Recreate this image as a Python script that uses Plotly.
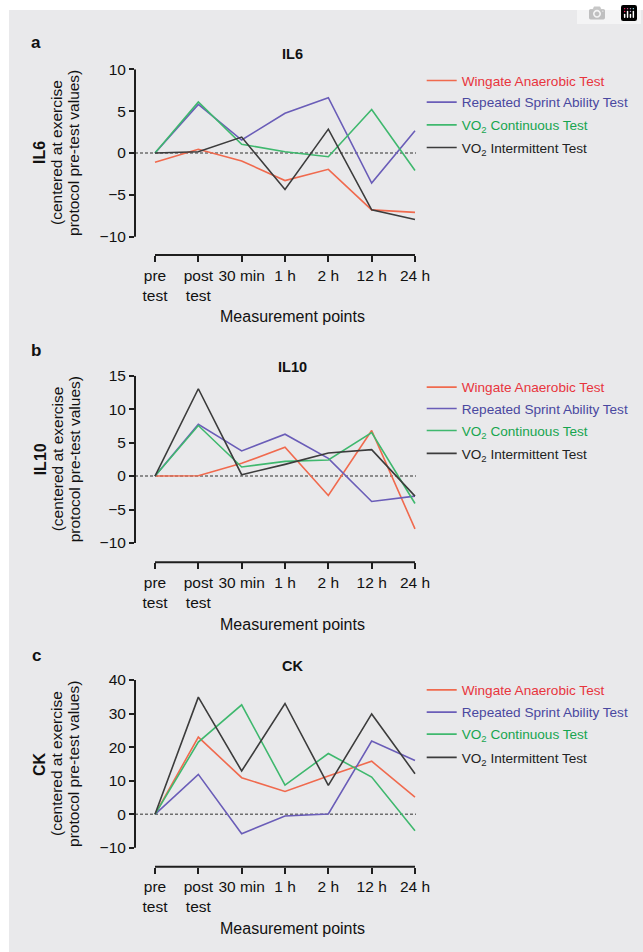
import plotly.graph_objects as go

W, H = 643, 952

# ---------------- data ----------------
x_labels = ["pre<br>test", "post<br>test", "30 min", "1 h", "2 h", "12 h", "24 h"]
x_pos = [0, 1, 2, 3, 4, 5, 6]

il6_wingate = [-1.1, 0.45, -0.95, -3.3, -1.95, -6.8, -7.1]
il6_rsa = [0, 5.8, 1.55, 4.75, 6.6, -3.6, 2.65]
il6_vo2c = [0, 6.1, 1.05, 0.15, -0.45, 5.2, -2.1]
il6_vo2i = [0, 0.15, 1.9, -4.35, 2.85, -6.8, -7.95]

il10_wingate = [0, 0.05, 1.9, 4.3, -2.9, 6.8, -7.9]
il10_rsa = [0, 7.75, 3.75, 6.25, 2.65, -3.8, -3.0]
il10_vo2c = [0, 7.55, 1.35, 2.2, 2.4, 6.5, -4.1]
il10_vo2i = [0, 13.05, 0.2, 1.75, 3.45, 3.95, -3.0]

ck_wingate = [0, 23.0, 10.9, 6.8, 11.4, 15.8, 5.1]
ck_rsa = [0, 11.9, -5.8, -0.5, 0.1, 21.8, 16.0]
ck_vo2c = [0, 21.5, 32.6, 8.7, 18.1, 11.1, -4.9]
ck_vo2i = [0, 34.9, 12.9, 33.0, 8.6, 29.9, 12.1]

il6_ticks = [-10, -5, 0, 5, 10]
il10_ticks = [-10, -5, 0, 5, 10, 15]
ck_ticks = [-10, 0, 10, 20, 30, 40]

legend_labels = ["Wingate Anaerobic Test", "Repeated Sprint Ability Test",
                 "VO<sub>2</sub> Continuous Test", "VO<sub>2</sub> Intermittent Test"]

# ---------------- styles ----------------
line_colors = ["#f06a4e", "#6a5db8", "#3fb86e", "#3c3c3c"]
text_colors = ["#e8353d", "#4a48a0", "#17a54f", "#222222"]

FONT = "Liberation Sans, Arial, sans-serif"
AX = "#1e1e1e"
LEG_SIZE = 13.6


def px_x(p):
    return p / W


def px_y(p):
    return 1 - p / H


panels = [
    dict(letter="a", title="IL6", yname="IL6",
         data=[il6_wingate, il6_rsa, il6_vo2c, il6_vo2i], ticks=il6_ticks,
         ymin=-12.19, ymax=10.0, top=69.3, bot=255.0,
         rows=[80.7, 102.3, 125.0, 147.7], tpx=54, lpx=43),
    dict(letter="b", title="IL10", yname="IL10",
         data=[il10_wingate, il10_rsa, il10_vo2c, il10_vo2i], ticks=il10_ticks,
         ymin=-12.89, ymax=15.0, top=375.7, bot=562.3,
         rows=[387.3, 408.7, 430.7, 453.5], tpx=367, lpx=350),
    dict(letter="c", title="CK", yname="CK",
         data=[ck_wingate, ck_rsa, ck_vo2c, ck_vo2i], ticks=ck_ticks,
         ymin=-15.61, ymax=40.0, top=680.0, bot=866.7,
         rows=[690.0, 712.3, 734.3, 757.5], tpx=666, lpx=655),
]

fig = go.Figure()
shapes = []
annotations = []
legends = {}

# outer grey panel
shapes.append(dict(type="rect", xref="paper", yref="paper", x0=px_x(9), x1=1, y0=0, y1=px_y(10),
                   fillcolor="#e9e9eb", line=dict(width=0), layer="below"))

x_left_px, x_right_px = 135.0, 416.0
spacing = (415.0 - 155.0) / 6
xr0 = -(155.0 - x_left_px) / spacing
xr1 = xr0 + (x_right_px - x_left_px) / spacing

for i, p in enumerate(panels):
    n = i + 1
    xa = "x" if n == 1 else f"x{n}"
    ya = "y" if n == 1 else f"y{n}"
    for j in range(4):
        k = i * 4 + j + 1
        lg = "legend" if k == 1 else f"legend{k}"
        fig.add_trace(go.Scatter(
            x=x_pos, y=p["data"][j], mode="lines", xaxis=xa, yaxis=ya,
            line=dict(color=line_colors[j], width=1.6),
            name=legend_labels[j], legend=lg, hoverinfo="skip",
        ))
        legends[lg] = dict(
            x=px_x(421.7), xanchor="left", y=px_y(p["rows"][j]), yanchor="middle",
            bgcolor="rgba(0,0,0,0)", borderwidth=0,
            font=dict(family=FONT, size=LEG_SIZE, color=text_colors[j]),
            itemclick=False, itemdoubleclick=False,
        )
    dom_y = [px_y(p["bot"]), px_y(p["top"])]
    xkey = "xaxis" if n == 1 else f"xaxis{n}"
    ykey = "yaxis" if n == 1 else f"yaxis{n}"
    fig.layout[xkey] = dict(
        domain=[px_x(x_left_px), px_x(x_right_px)], anchor=ya, range=[xr0, xr1],
        tickvals=x_pos, ticktext=x_labels, ticks="outside", ticklen=6, tickwidth=1.6,
        tickcolor=AX, showline=False, showgrid=False, zeroline=False, automargin=False,
        tickfont=dict(family=FONT, size=15.5, color="#111"), fixedrange=True,
        ticklabelstandoff=0,
    )
    fig.layout[ykey] = dict(
        domain=dom_y, anchor=xa, range=[p["ymin"], p["ymax"]],
        tickvals=p["ticks"], ticks="outside", ticklen=5, tickwidth=1.6, tickcolor=AX,
        showline=False, showgrid=False, zeroline=False, automargin=False,
        tickfont=dict(family=FONT, size=15.5, color="#111"), fixedrange=True,
    )
    xd = f"{xa} domain"
    yd = f"{ya} domain"
    shapes.append(dict(type="line", xref=xd, yref=ya, x0=0, x1=0,
                       y0=min(p["ticks"]), y1=max(p["ticks"]),
                       line=dict(color=AX, width=2)))
    shapes.append(dict(type="line", xref=xa, yref=yd, x0=x_pos[0], x1=x_pos[-1], y0=0, y1=0,
                       line=dict(color=AX, width=2)))
    shapes.append(dict(type="line", xref=xd, yref=ya, x0=0, x1=1, y0=0, y1=0,
                       line=dict(color="#6e6e6e", width=1.5, dash="3px,2px"), layer="below"))

    common = dict(xref="paper", yref="paper", showarrow=False,
                  xanchor="center", yanchor="middle")
    annotations.append(dict(text=f"<b>{p['letter']}</b>", x=px_x(36), y=px_y(p["lpx"]),
                            font=dict(family=FONT, size=17, color="#111"), **common))
    annotations.append(dict(text=f"<b>{p['title']}</b>", x=px_x(292), y=px_y(p["tpx"]),
                            font=dict(family=FONT, size=14.5, color="#111"), **common))
    annotations.append(dict(text="Measurement points", x=px_x(292), y=px_y(p["bot"] + 62),
                            font=dict(family=FONT, size=16, color="#111"), **common))
    bottom_tick_px = p["top"] + (max(p["ticks"]) - min(p["ticks"])) * (p["bot"] - p["top"]) / (p["ymax"] - p["ymin"])
    mid = px_y((p["top"] + bottom_tick_px) / 2)
    for txt, xx, bold in [(p["yname"], 40, True),
                          ("(centered at exercise", 57, False),
                          ("protocol pre-test values)", 74, False)]:
        annotations.append(dict(text=f"<b>{txt}</b>" if bold else txt, x=px_x(xx), y=mid,
                                textangle=-90,
                                font=dict(family=FONT, size=16 if bold else 15.5, color="#111"),
                                **common))

fig.update_layout(
    width=W, height=H, margin=dict(l=0, r=0, t=0, b=0, autoexpand=False),
    paper_bgcolor="white", plot_bgcolor="#ebebed",
    shapes=shapes, annotations=annotations, showlegend=True,
    font=dict(family=FONT, color="#111"),
    **legends,
)

fig.write_html("out.html", post_script="document.body.style.margin='0px';")
